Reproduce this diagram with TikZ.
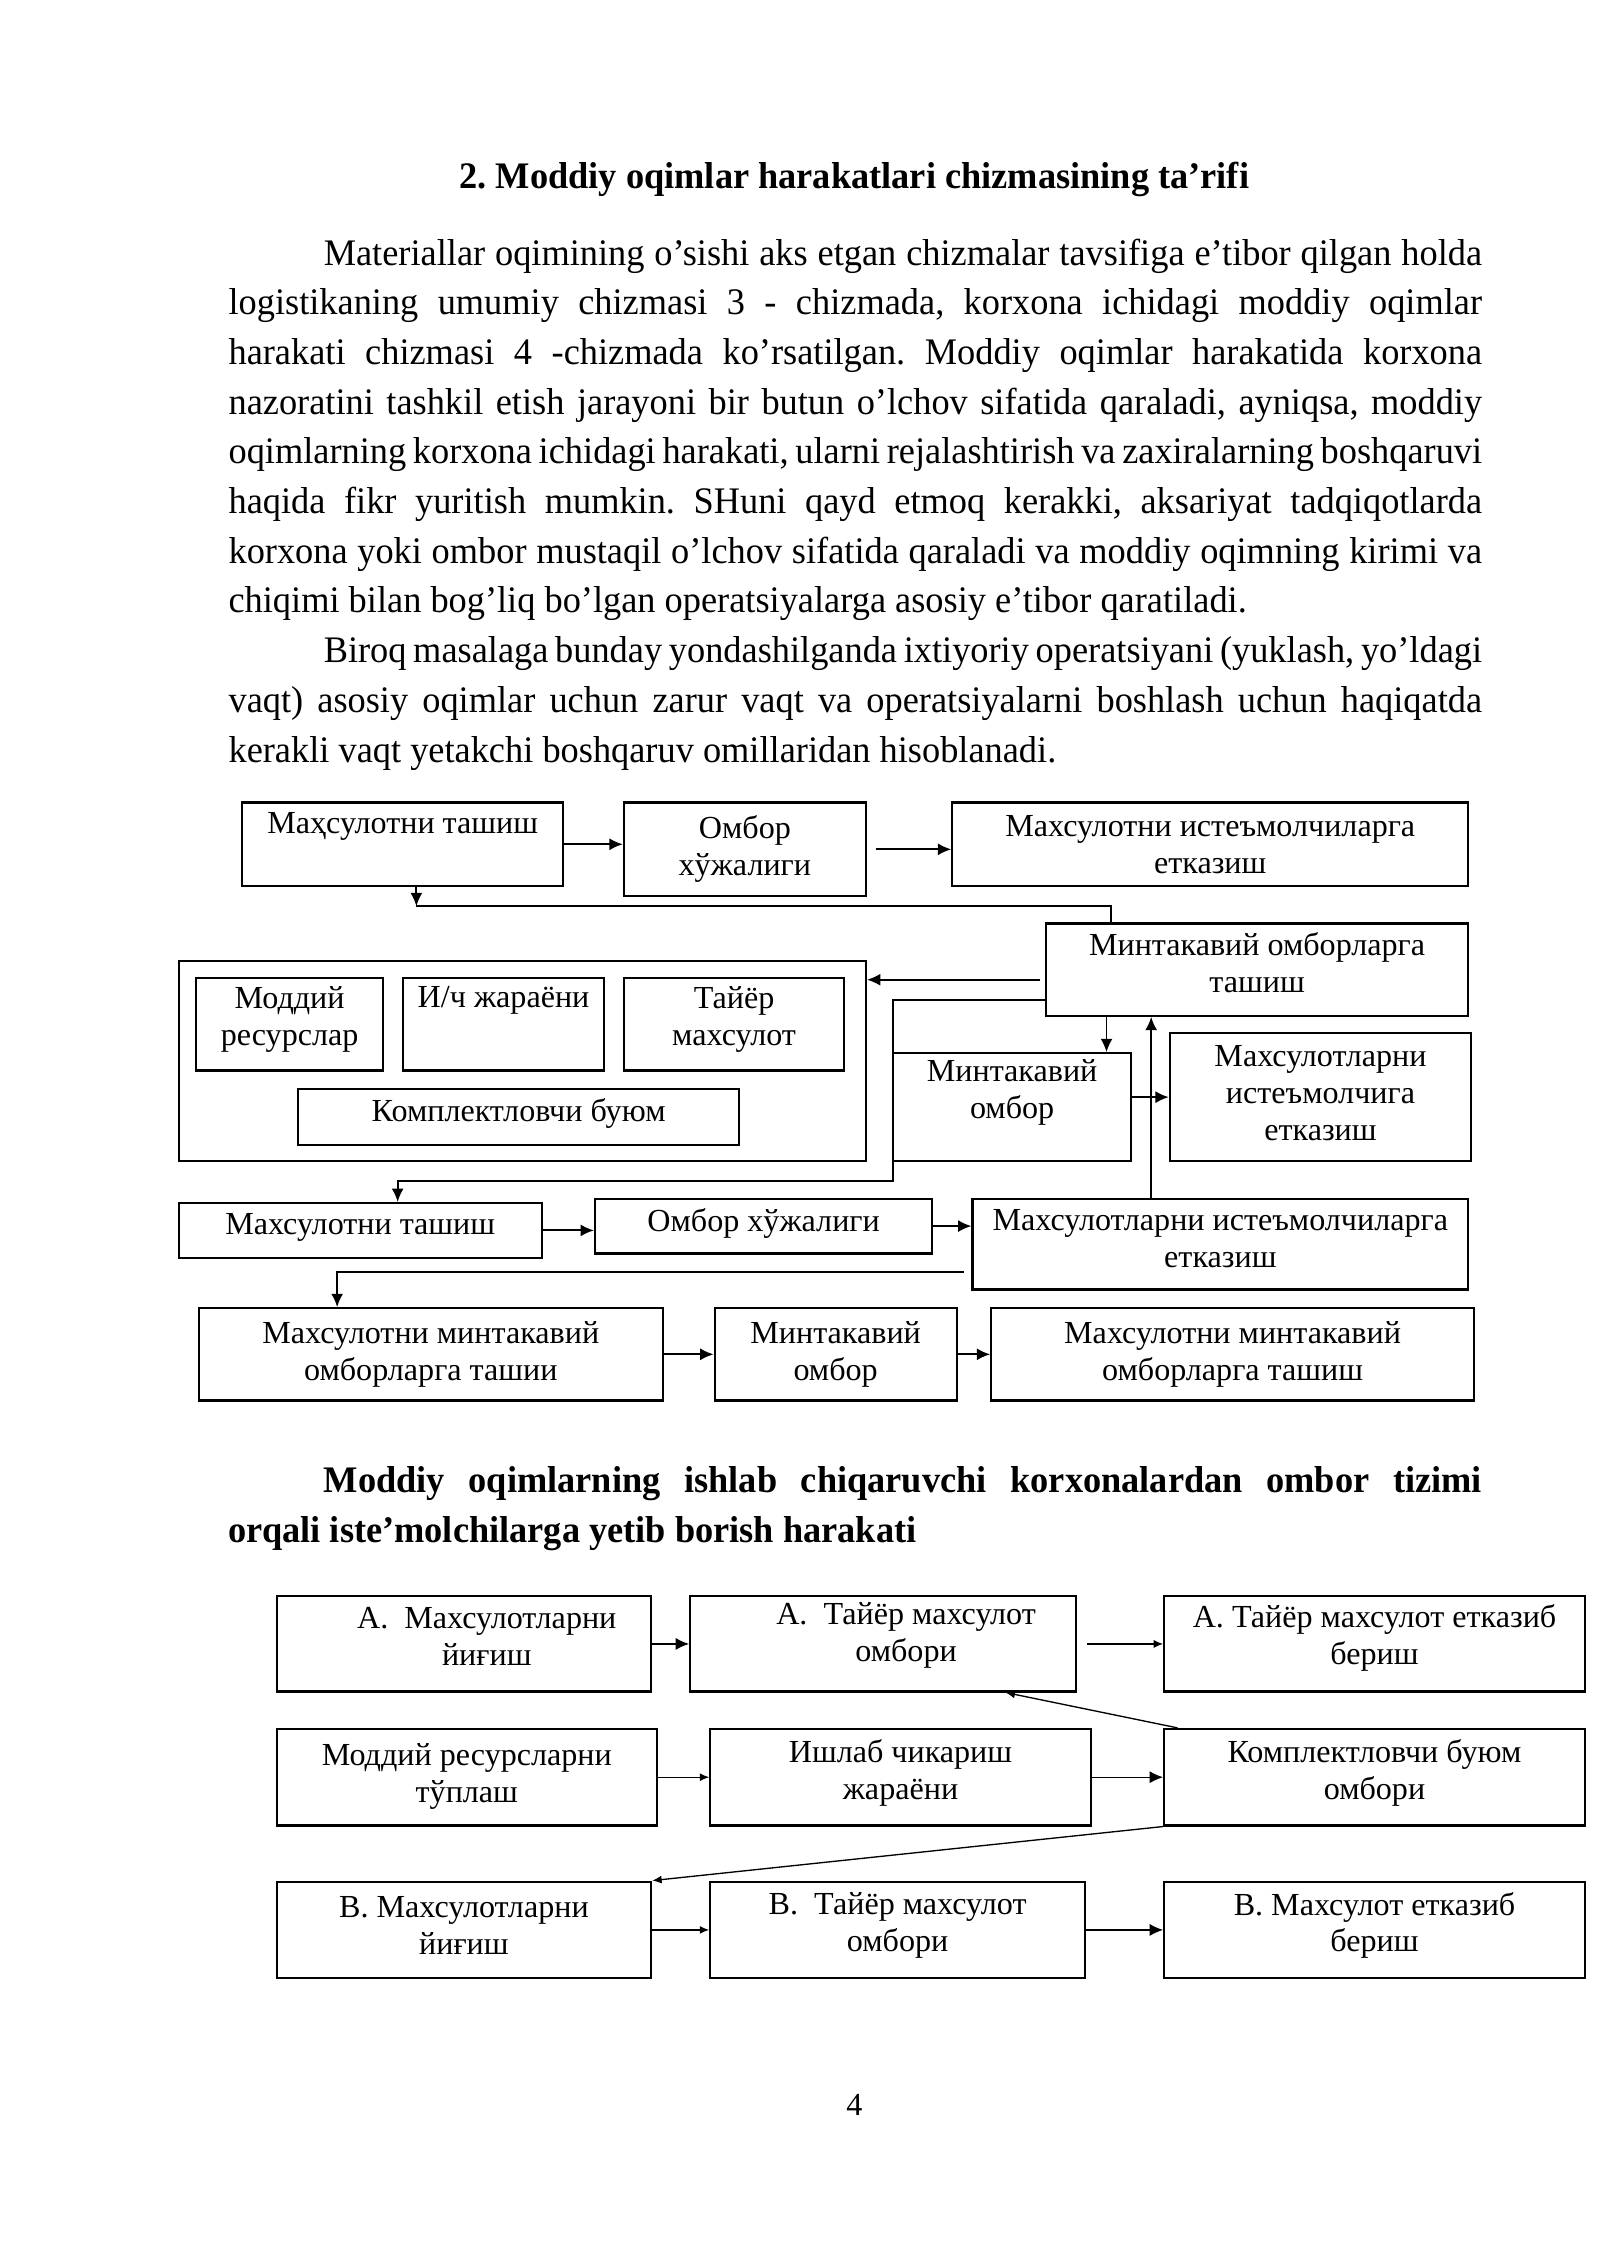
\documentclass[tikz,border=0pt]{standalone}
\usepackage{fontspec}
\setmainfont{Liberation Serif}
\newfontfamily\bodyfont[FakeStretch=0.97]{Liberation Serif}
\usetikzlibrary{positioning,arrows.meta}
\newcommand\pxu{0.018919cm}
\frenchspacing
\tolerance=9999
\hyphenpenalty=10000
\tikzset{
>={Latex[length=5pt,width=4.5pt]}, % big arrow heads
small/.style={-{Latex[length=3.5pt,width=3pt]}}, % thin arrows of the lower chart
box/.style 2 args={draw, line width=.8pt, minimum width=#1*\pxu, minimum height=#2*\pxu, inner sep=0pt, align=center, font=\fontsize{12}{13.8}\selectfont},
lift/.style={text depth=#1*\pxu}, % pushes the text towards the top of its box
body/.style={anchor=base west, inner sep=0pt, text width=870*\pxu, align=justify, font=\bodyfont\fontsize{14}{18.57}\selectfont},
}
\newcommand\tightspace{\spaceskip=3.4pt plus 3pt minus 1.2pt\relax}
\begin{document}
\begin{tikzpicture}[x=\pxu, y=-\pxu, line width=.7pt]
\useasboundingbox (0,0) rectangle (1110,1570);
\node[anchor=base, font=\bodyfont\bfseries\fontsize{14}{16}\selectfont] at (593,131) (title) {2. Moddiy oqimlar harakatlari chizmasining ta’rifi};
\node[body] at (158,184) (para) {\tightspace\hspace*{1.25cm}Materiallar oqimining o’sishi aks etgan chizmalar tavsifiga e’tibor qilgan holda\linebreak
logistikaning umumiy chizmasi 3 - chizmada, korxona ichidagi moddiy oqimlar\linebreak
harakati chizmasi 4 -chizmada ko’rsatilgan. Moddiy oqimlar harakatida korxona\linebreak
nazoratini tashkil etish jarayoni bir butun o’lchov sifatida qaraladi, ayniqsa, moddiy\linebreak
oqimlarning korxona ichidagi harakati, ularni rejalashtirish va zaxiralarning boshqaruvi\linebreak
haqida fikr yuritish mumkin. SHuni qayd etmoq kerakki, aksariyat tadqiqotlarda\linebreak
korxona yoki ombor mustaqil o’lchov sifatida qaraladi va moddiy oqimning kirimi va\linebreak
chiqimi bilan bog’liq bo’lgan operatsiyalarga asosiy e’tibor qaratiladi.\par
\hspace*{1.25cm}Biroq masalaga bunday yondashilganda ixtiyoriy operatsiyani (yuklash, yo’ldagi\linebreak
vaqt) asosiy oqimlar uchun zarur vaqt va operatsiyalarni boshlash uchun haqiqatda\linebreak
kerakli vaqt yetakchi boshqaruv omillaridan hisoblanadi.};

% first chart
\node[box={223}{58}, lift=30] at (279.5,586) (ship1) {Маҳсулотни ташиш};
\node[box={168}{65}, lift=5] at (517,589.5) (store1) {Омбор\\хўжалиги};
\node[box={358}{58}] at (840,586) (deliv1) {Махсулотни истеъмолчиларга\\етказиш};
\node[box={293}{64}, lift=10] at (872.5,673) (regtr) {Минтакавий омборларга\\ташиш};
\node[box={477}{139}] at (362.5,736.5) (plant) {};
\node[box={130}{64}, lift=11] at (201,711) (res) {Моддий\\ресурслар};
\node[box={139}{64}, lift=38] at (349.5,711) (proc) {И/ч жараёни};
\node[box={153}{64}, lift=11] at (509.5,711) (fin) {Тайёр\\махсулот};
\node[box={306}{39}, lift=10] at (360,775.5) (kit) {Комплектловчи буюм};
\node[box={165}{75}, lift=25] at (702.5,768.5) (regst) {Минтакавий\\омбор};
\node[box={209}{89}, lift=6] at (916.5,761.5) (cons1) {Махсулотларни\\истеъмолчига\\етказиш};
\node[box={252}{38}, lift=9] at (250,854) (ship2) {Махсулотни ташиш};
\node[box={234}{38}, lift=9] at (530,851) (store2) {Омбор хўжалиги};
\node[box={344}{63}, lift=8] at (847,863.5) (deliv2) {Махсулотларни истеъмолчиларга\\етказиш};
\node[box={322}{64}] at (299,940) (regtr2) {Махсулотни минтакавий\\омборларга ташии};
\node[box={168}{64}] at (580,940) (regst2) {Минтакавий\\омбор};
\node[box={335}{64}] at (855.5,940) (regtr3) {Махсулотни минтакавий\\омборларга ташиш};
\coordinate (c1) at (771,629);
\coordinate (c2) at (289,629);
\coordinate (c7) at (722,680);
\coordinate (c8) at (620,694);
\coordinate (c3) at (620,820);
\coordinate (c4) at (276,820);
\coordinate (x768) at (768,0);
\coordinate (x799) at (799,0);
\coordinate (c5) at (669,883);
\coordinate (c6) at (234,883);
\draw (c1 |- regtr.north) -- (c1) -- (c2);
\draw[->] (regtr.west |- c8) -- (c8) -- (c3) -- (c4) -- (c4 |- ship2.north);
\draw[->] (c5) -- (c6) -- (c6 |- regtr2.north);
\draw
(ship1.east) edge[->] (ship1.east -| store1.west)
([xshift=6*\pxu]store1.east) edge[->] (store1.east -| deliv1.west)
(ship1.south -| c2) edge[->] (c2)
(c7) edge[->] (c7 -| plant.east)
(regtr.south -| x768) edge[->] (regst.north -| x768)
(deliv2.north -| x799) edge[->] (regtr.south -| x799)
(regst.east |- cons1.west) edge[->] (cons1.west)
(ship2.east) edge[->] (ship2.east -| store2.west)
(store2.east) edge[->] (store2.east -| deliv2.west)
(regtr2.east) edge[->] (regst2.west)
(regst2.east) edge[->] (regtr3.west)
;

\node[body, font=\bodyfont\bfseries\fontsize{14}{18.57}\selectfont] at (158,1036) (head) {\tightspace\hspace*{1.25cm}Moddiy oqimlarning ishlab chiqaruvchi korxonalardan ombor tizimi\linebreak
orqali iste’molchilarga yetib borish harakati};

% second chart
\node[box={260}{66}, lift=11] at (322,1141) (a1) {\hspace*{0.6cm}А.\ \ Махсулотларни\\\hspace*{0.6cm}йиғиш};
\node[box={268}{66}, lift=16] at (613,1141) (a2) {\hspace*{0.6cm}А.\ \ Тайёр махсулот\\\hspace*{0.6cm}омбори};
\node[box={292}{66}, lift=13] at (954,1141) (a3) {А. Тайёр махсулот етказиб\\бериш};
\node[box={264}{67}, lift=6] at (324,1233.5) (m1) {Моддий ресурсларни\\тўплаш};
\node[box={264}{67}, lift=11] at (625,1233.5) (m2) {Ишлаб чикариш\\жараёни};
\node[box={292}{67}, lift=11] at (954,1233.5) (m3) {Комплектловчи буюм\\омбори};
\node[box={260}{67}, lift=6] at (322,1339.5) (b1) {В. Махсулотларни\\йиғиш};
\node[box={260}{67}, lift=11] at (623,1339.5) (b2) {В.\ \ Тайёр махсулот\\омбори};
\node[box={292}{67}, lift=11] at (954,1339.5) (b3) {В. Махсулот етказиб\\бериш};
\coordinate (x698) at (698,0);
\draw[line width=.5pt]
(a1.east) edge[->] (a2.west)
([xshift=7*\pxu]a2.east) edge[small] (a3.west)
(m1.east) edge[small] (m2.west)
(m2.east) edge[->] (m3.west)
([xshift=10*\pxu]m3.north west) edge[small] (a2.south -| x698)
(m3.south west) edge[small] (b1.north east)
(b1.east) edge[small] (b2.west)
(b2.east) edge[->] (b3.west)
;

\node[anchor=base, font=\fontsize{12}{14}\selectfont] at (593,1468) (pageno) {4};
\end{tikzpicture}
\end{document}
